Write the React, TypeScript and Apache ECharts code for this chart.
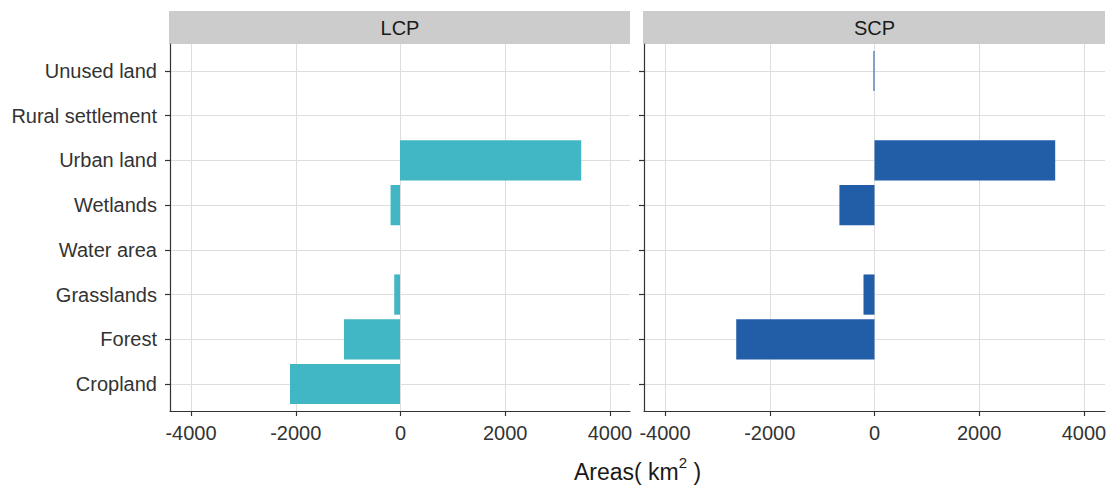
import React, { useEffect, useRef } from "react";
import * as echarts from "echarts";

const categories = [
  "Cropland",
  "Forest",
  "Grasslands",
  "Water area",
  "Wetlands",
  "Urban land",
  "Rural settlement",
  "Unused land",
];
const lcpValues = [-2100, -1070, -110, 0, -180, 3460, 0, 0];
const scpValues = [0, -2640, -210, 0, -670, 3450, 0, -20];
const xTicks = [-4000, -2000, 0, 2000, 4000];
const panelNames = ["LCP", "SCP"];
const panelColors = ["#41B6C4", "#225EA8"];

const FONT = "'Liberation Sans', Arial, Helvetica, sans-serif";
const GRID_COLOR = "#DEDEDE";
const AXIS_COLOR = "#333333";
const TEXT_COLOR = "#333333";

const panelGeom = [
  { left: 170, width: 460 },
  { left: 644, width: 461 },
];
const plotTop = 44;
const plotHeight = 367;
const catTop = 71;
const catHeight = 313;
const tickInset = 21;
const tickWidth = 419;

export default function App() {
  const ref = useRef<HTMLDivElement>(null);

  useEffect(() => {
    if (!ref.current) return;
    const chart = echarts.init(ref.current, null, { renderer: "svg" });

    const grids: any[] = [];
    const xAxes: any[] = [];
    const yAxes: any[] = [];
    const series: any[] = [];
    const graphics: any[] = [];
    const seriesData = [lcpValues, scpValues];
    const tMin = xTicks[0];
    const tMax = xTicks[xTicks.length - 1];
    const tInterval = xTicks[1] - xTicks[0];

    panelGeom.forEach((p, i) => {
      const base = i * 3;
      grids.push({ left: p.left, top: plotTop, width: p.width, height: plotHeight, outerBoundsMode: "none" });
      grids.push({ left: p.left + tickInset, top: plotTop, width: tickWidth, height: plotHeight, outerBoundsMode: "none" });
      grids.push({ left: p.left, top: catTop, width: p.width, height: catHeight, outerBoundsMode: "none" });

      xAxes.push({
        type: "value", gridIndex: base, min: 0, max: 1,
        axisLine: { show: true, onZero: false, lineStyle: { color: AXIS_COLOR, width: 1.2 } },
        axisTick: { show: false }, axisLabel: { show: false }, splitLine: { show: false },
      });
      yAxes.push({
        type: "value", gridIndex: base, min: 0, max: 1,
        axisLine: { show: true, onZero: false, lineStyle: { color: AXIS_COLOR, width: 1.2 } },
        axisTick: { show: false }, axisLabel: { show: false }, splitLine: { show: false },
      });

      xAxes.push({
        type: "value", gridIndex: base + 1, min: tMin, max: tMax, interval: tInterval,
        axisLine: { show: false, onZero: false },
        axisTick: { show: true, length: 5, lineStyle: { color: AXIS_COLOR, width: 1.2 } },
        axisLabel: {
          show: true, fontSize: 20, color: TEXT_COLOR, margin: 12, fontFamily: FONT,
          formatter: (v: number) => String(v),
        },
        splitLine: { show: true, lineStyle: { color: GRID_COLOR, width: 1 } },
      });
      yAxes.push({ type: "value", gridIndex: base + 1, show: false, min: 0, max: 1 });

      const half = (xTicks[xTicks.length - 1] * p.width) / tickWidth;
      xAxes.push({
        type: "value", gridIndex: base + 2, min: -half, max: half, show: false,
        axisLine: { show: false, onZero: false },
      });
      yAxes.push({
        type: "category", gridIndex: base + 2, data: categories, boundaryGap: false,
        position: "left",
        axisLine: { show: false, onZero: false },
        axisTick: { show: true, length: 5, lineStyle: { color: AXIS_COLOR, width: 1.2 } },
        axisLabel: { show: i === 0, fontSize: 20, color: TEXT_COLOR, margin: 13, fontFamily: FONT },
        splitLine: { show: true, lineStyle: { color: GRID_COLOR, width: 1 } },
      });

      series.push({
        type: "bar", name: panelNames[i], xAxisIndex: base + 2, yAxisIndex: base + 2,
        data: seriesData[i], barWidth: "90%", clip: false,
        itemStyle: { color: panelColors[i] },
      });

      graphics.push({
        type: "rect", shape: { x: p.left - 1, y: 11, width: p.width + 1, height: 33 },
        style: { fill: "#CCCCCC" }, silent: true,
      });
      graphics.push({
        type: "text", x: p.left + p.width / 2, y: 28,
        style: { text: panelNames[i], fontSize: 20, fill: "#1A1A1A", fontFamily: FONT, align: "center", verticalAlign: "middle" },
        silent: true,
      });
    });

    graphics.push({
      type: "text", x: (panelGeom[0].left + panelGeom[1].left + panelGeom[1].width) / 2, y: 469,
      style: {
        text: "{a|Areas( km}{s|2}{a| )}",
        fontFamily: FONT,
        fill: "#1A1A1A",
        align: "center",
        verticalAlign: "middle",
        rich: {
          a: { fontSize: 23, fontFamily: FONT, fill: "#1A1A1A", lineHeight: 28, verticalAlign: "bottom" },
          s: { fontSize: 15, fontFamily: FONT, fill: "#1A1A1A", lineHeight: 15, verticalAlign: "top" },
        },
      },
      silent: true,
    });

    chart.setOption({
      animation: false,
      backgroundColor: "#FFFFFF",
      textStyle: { fontFamily: FONT },
      grid: grids,
      xAxis: xAxes,
      yAxis: yAxes,
      series,
      graphic: graphics,
    });

    return () => chart.dispose();
  }, []);

  return (
    <div
      ref={ref}
      style={{ position: "fixed", left: 0, top: 0, width: 1116, height: 487, background: "#FFFFFF" }}
    />
  );
}
